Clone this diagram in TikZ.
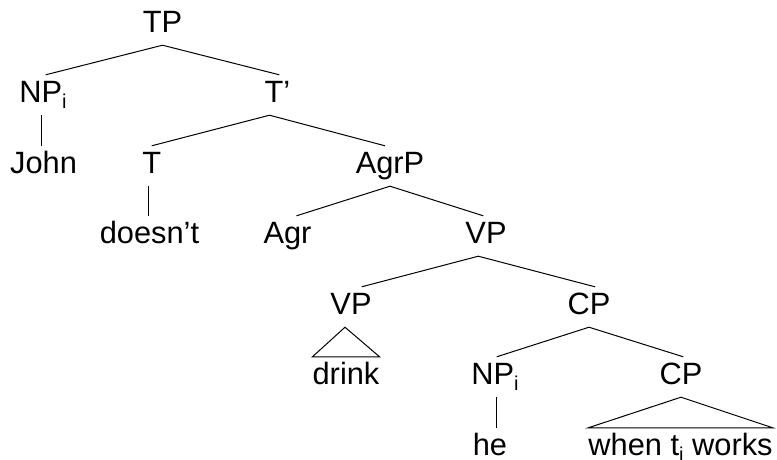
\documentclass[tikz,border=0pt]{standalone}
\usepackage{fontspec}
\setmainfont{Liberation Sans}
\newcommand\subi{\raisebox{-6pt}{\fontsize{20}{20}\selectfont i}}
\begin{document}
\begin{tikzpicture}[x=1pt,y=-1pt,
  tn/.style={anchor=base, inner xsep=0pt, inner ysep=6pt, text height=21pt, text depth=7pt,
    font=\fontsize{30.8}{36}\selectfont},
  leaf/.style={tn, inner ysep=3pt, text height=24pt, text depth=0pt},
  br/.style={line width=1pt}]
\useasboundingbox (0,0) rectangle (777,459);
\node[tn] (TP) at (162.5,32) {TP};
\node[tn] (NPa) at (43,102) {NP\subi};
\node[tn] (Tbar) at (277.5,102) {T’};
\node[tn] (John) at (43.5,173) {John};
\node[tn] (T) at (151.7,173) {T};
\node[tn] (AgrP) at (390,173) {AgrP};
\node[tn] (doesnt) at (149.5,243) {doesn’t};
\node[tn] (Agr) at (287.5,243) {Agr};
\node[tn] (VPa) at (486,243) {VP};
\node[tn] (VPb) at (351,314) {VP};
\node[tn] (CPa) at (589,314) {CP};
\node[tn] (drink) at (346,384) {drink};
\node[tn] (NPb) at (495,384) {NP\subi};
\node[tn] (CPb) at (681,384) {CP};
\node[leaf] (he) at (490,455) {he};
\node[leaf] (when) at (680.5,455) {when t\subi{} works};

\draw[br] ([xshift=2.7pt]NPa.north) -- (TP.south) -- ([xshift=1.8pt]Tbar.north);
\draw[br] ([xshift=-1.3pt]NPa.south) -- ([xshift=-1.3pt]NPa.south |- John.north);
\draw[br] (T.north) -- ([xshift=-8pt]Tbar.south) -- ([xshift=-5pt]AgrP.north);
\draw[br] ([xshift=-3.4pt]T.south) -- ([xshift=-3.4pt]T.south |- doesnt.north);
\draw[br] ([xshift=9pt]Agr.north) -- (AgrP.south) -- ([xshift=-2.7pt]VPa.north);
\draw[br] ([xshift=10.7pt]VPb.north) -- ([xshift=-7.7pt]VPa.south) -- ([xshift=6pt]CPa.north);
\draw[br] ([xshift=-6pt]VPb.south) -- (drink.north east) -- (drink.north west) -- cycle;
\draw[br] ([xshift=1.7pt]NPb.north) -- (CPa.south) -- ([xshift=2.3pt]CPb.north);
\draw[br] ([xshift=1pt]NPb.south) -- ([xshift=1pt]NPb.south |- he.north);
\draw[br] (CPb.south) -- (when.north east) -- (when.north west) -- cycle;
\end{tikzpicture}
\end{document}
